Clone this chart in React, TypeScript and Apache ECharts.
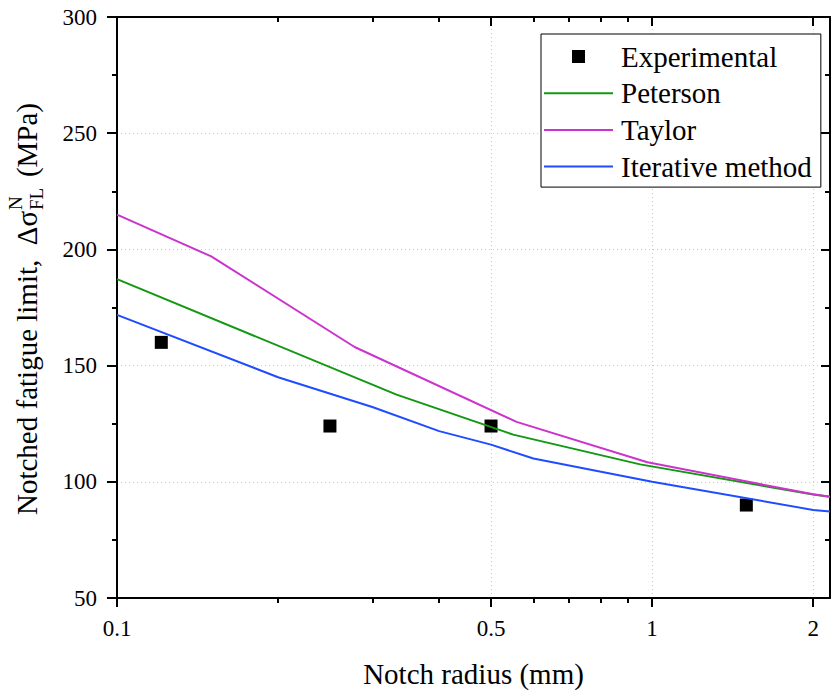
import React, { useEffect, useRef } from "react";
import * as echarts from "echarts";

// ---- data ----
const xMajorTicks = [0.1, 0.5, 1, 2];
const xMinorTicks = [0.2, 0.3, 0.4, 0.6, 0.7, 0.8, 0.9];
const seriesNames = ["Experimental", "Peterson", "Taylor", "Iterative method"];

const experimental = [
  [0.121, 160],
  [0.25, 124],
  [0.5, 124],
  [1.5, 90],
];
const peterson = [
  [0.1, 187.2],
  [0.333, 137.5],
  [0.55, 120.3],
  [0.95, 107.5],
  [2.0, 94.5],
  [2.15, 93.6],
];
const taylor = [
  [0.1, 215],
  [0.15, 197],
  [0.278, 158],
  [0.558, 125.8],
  [0.98, 108.4],
  [2.0, 94.6],
  [2.15, 93.6],
];
const iterative = [
  [0.1, 171.8],
  [0.2, 145],
  [0.3, 132.2],
  [0.4, 121.8],
  [0.5, 116],
  [0.6, 110],
  [1.0, 100],
  [2.0, 87.9],
  [2.15, 87.2],
];

const FONT = "Liberation Serif";
const COLORS = { exp: "#000000", pet: "#129812", tay: "#cc33cc", ite: "#1f4cff" };

export default function App() {
  const ref = useRef<HTMLDivElement>(null);
  useEffect(() => {
    if (!ref.current) return;
    const chart = echarts.init(ref.current, undefined, { renderer: "svg" });

    const X_MIN = 0.1;
    const X_MAX = 2.15;

    // y-axis title layout (rotated, with stacked super/subscript)
    const big = 29;
    const small = 19;
    const cen = 0.3375;
    const startY = 515; // screen y where the title begins (reads upward)

    const axisLineStyle = { color: "#000", width: 2 };
    const gridLine = { show: true, lineStyle: { color: "#c8c8c8", width: 1, type: [1, 3] as any } };

    const logAxisBase = {
      type: "log" as const,
      logBase: 10,
      min: X_MIN,
      max: X_MAX,
      gridIndex: 0,
    };

    chart.setOption({
      animation: false,
      backgroundColor: "#fff",
      textStyle: { fontFamily: FONT },
      grid: { left: 117, top: 17, width: 713, height: 583, containLabel: false },
      xAxis: [
        {
          ...logAxisBase,
          position: "bottom",
          name: "Notch radius (mm)",
          nameLocation: "middle",
          nameGap: 61,
          nameTextStyle: { fontFamily: FONT, fontSize: 29, color: "#000" },
          axisLine: { show: true, lineStyle: axisLineStyle },
          axisTick: { show: true, inside: false, length: 9, customValues: xMajorTicks, lineStyle: { color: "#000", width: 2 } },
          axisLabel: {
            show: true,
            customValues: xMajorTicks,
            margin: 19,
            fontFamily: FONT,
            fontSize: 23,
            color: "#000",
            formatter: (v: number) => String(Math.round(v * 100) / 100),
          },
          splitLine: gridLine,
          minorTick: { show: false },
          minorSplitLine: { show: false },
        },
        {
          ...logAxisBase,
          position: "bottom",
          axisLine: { show: false },
          axisTick: { show: true, inside: false, length: 5, customValues: xMinorTicks, lineStyle: { color: "#000", width: 2 } },
          axisLabel: { show: false },
          splitLine: { show: false },
        },
        {
          ...logAxisBase,
          position: "top",
          axisLine: { show: true, onZero: false, lineStyle: axisLineStyle },
          axisTick: { show: true, inside: true, length: 9, customValues: xMajorTicks, lineStyle: { color: "#000", width: 2 } },
          axisLabel: { show: false },
          splitLine: { show: false },
        },
        {
          ...logAxisBase,
          position: "top",
          axisLine: { show: false },
          axisTick: { show: true, inside: true, length: 5, customValues: xMinorTicks, lineStyle: { color: "#000", width: 2 } },
          axisLabel: { show: false },
          splitLine: { show: false },
        },
      ],
      yAxis: [
        {
          type: "value",
          position: "left",
          min: 50,
          max: 300,
          interval: 50,
          axisLine: { show: true, onZero: false, lineStyle: axisLineStyle },
          axisTick: { show: true, inside: false, length: 10, lineStyle: { color: "#000", width: 2 } },
          minorTick: { show: true, splitNumber: 2, length: 5, lineStyle: { color: "#000", width: 2 } },
          axisLabel: { show: true, margin: 20, fontFamily: FONT, fontSize: 23, color: "#000" },
          splitLine: gridLine,
          minorSplitLine: { show: false },
        },
        {
          type: "value",
          position: "right",
          min: 50,
          max: 300,
          interval: 50,
          axisLine: { show: true, onZero: false, lineStyle: axisLineStyle },
          axisTick: { show: true, inside: true, length: 9, lineStyle: { color: "#000", width: 2 } },
          minorTick: { show: true, splitNumber: 2, length: 5, lineStyle: { color: "#000", width: 2 } },
          axisLabel: { show: false },
          splitLine: { show: false },
        },
      ],
      legend: {
        orient: "vertical",
        left: 541,
        top: 34,
        padding: [8, 9, 6, 3],
        itemWidth: 69,
        itemHeight: 13,
        itemGap: 7.7,
        borderColor: "#000",
        borderWidth: 1,
        borderRadius: 0,
        backgroundColor: "#fff",
        selectedMode: false,
        symbolKeepAspect: true,
        textStyle: { fontFamily: FONT, fontSize: 29, color: "#000", lineHeight: 29, padding: [0, 0, 0, 3] },
        data: [
          { name: seriesNames[0], icon: "path://M0 0H10V10H0Z", itemStyle: { color: COLORS.exp, opacity: 1 } },
          { name: seriesNames[1], icon: "path://M0 0H69V2H0Z", itemStyle: { color: COLORS.pet } },
          { name: seriesNames[2], icon: "path://M0 0H69V2H0Z", itemStyle: { color: COLORS.tay } },
          { name: seriesNames[3], icon: "path://M0 0H69V2H0Z", itemStyle: { color: COLORS.ite } },
        ],
      },
      graphic: [
        {
          type: "group",
          x: 37,
          y: startY,
          rotation: Math.PI / 2,
          children: [
            {
              type: "text",
              x: 0,
              y: -cen * big,
              style: { text: "Notched fatigue limit,  \u0394\u03c3", fontFamily: FONT, fontSize: big, fill: "#000", textAlign: "left", textVerticalAlign: "middle" },
            },
            {
              type: "text",
              x: 305,
              y: -15 - cen * small,
              style: { text: "N", fontFamily: FONT, fontSize: small, fill: "#000", textAlign: "left", textVerticalAlign: "middle" },
            },
            {
              type: "text",
              x: 305,
              y: 6 - cen * small,
              style: { text: "FL", fontFamily: FONT, fontSize: small, fill: "#000", textAlign: "left", textVerticalAlign: "middle" },
            },
            {
              type: "text",
              x: startY - 103,
              y: -cen * big,
              style: { text: "(MPa)", fontFamily: FONT, fontSize: big, fill: "#000", textAlign: "right", textVerticalAlign: "middle" },
            },
          ],
        },
      ],
      series: [
        {
          name: seriesNames[0],
          type: "scatter",
          xAxisIndex: 0,
          yAxisIndex: 0,
          symbol: "rect",
          symbolSize: 13,
          itemStyle: { color: COLORS.exp, opacity: 1 },
          data: experimental,
          z: 2,
        },
        {
          name: seriesNames[1],
          type: "line",
          xAxisIndex: 0,
          yAxisIndex: 0,
          symbol: "none",
          lineStyle: { color: COLORS.pet, width: 2 },
          itemStyle: { color: COLORS.pet },
          data: peterson,
          z: 3,
        },
        {
          name: seriesNames[2],
          type: "line",
          xAxisIndex: 0,
          yAxisIndex: 0,
          symbol: "none",
          lineStyle: { color: COLORS.tay, width: 2 },
          itemStyle: { color: COLORS.tay },
          data: taylor,
          z: 3,
        },
        {
          name: seriesNames[3],
          type: "line",
          xAxisIndex: 0,
          yAxisIndex: 0,
          symbol: "none",
          lineStyle: { color: COLORS.ite, width: 2 },
          itemStyle: { color: COLORS.ite },
          data: iterative,
          z: 3,
        },
      ],
    });
    return () => chart.dispose();
  }, []);

  return <div ref={ref} style={{ position: "absolute", left: 0, top: 0, width: 831, height: 693 }} />;
}
